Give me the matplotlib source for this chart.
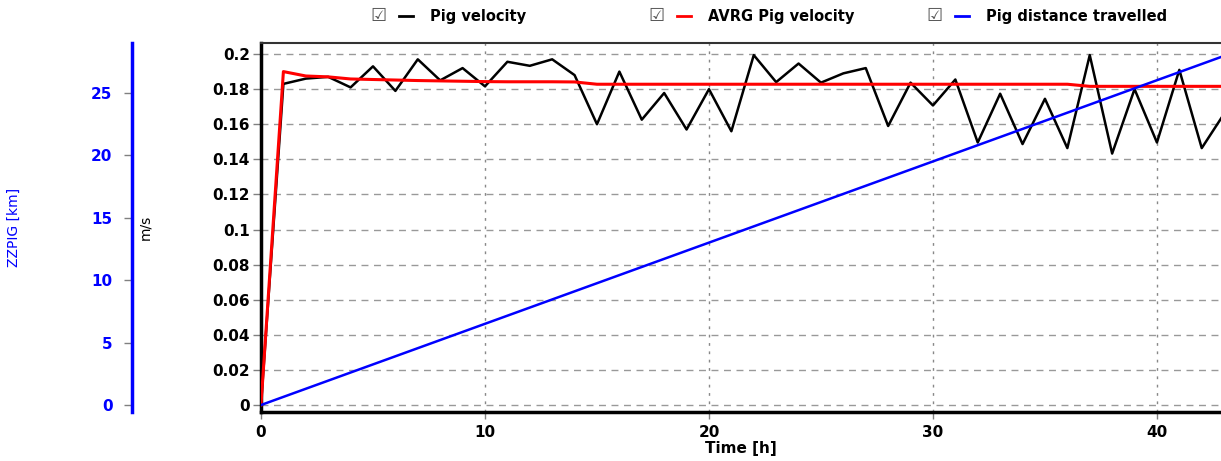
import matplotlib
matplotlib.use("Agg")
import matplotlib.pyplot as plt
from matplotlib.lines import Line2D
from matplotlib.ticker import FuncFormatter

plt.rcParams["font.family"] = "DejaVu Sans"
plt.rcParams["font.weight"] = "bold"

hours = list(range(44))

pig_velocity = [0.0, 0.183, 0.186, 0.187, 0.181, 0.193, 0.179, 0.197, 0.185, 0.192,
                0.1816, 0.1956, 0.1933, 0.197, 0.188, 0.160, 0.190, 0.1626, 0.1778, 0.157,
                0.180, 0.156, 0.1994, 0.184, 0.1946, 0.1837, 0.189, 0.192, 0.159, 0.1837,
                0.1707, 0.1855, 0.1496, 0.1774, 0.1487, 0.1745, 0.1464, 0.1994, 0.1433, 0.180,
                0.1496, 0.191, 0.1464, 0.166]

avrg_velocity = [0.0, 0.190, 0.1875, 0.187, 0.1858, 0.1855, 0.1852, 0.1849, 0.1847, 0.1845,
                 0.1843, 0.1842, 0.1842, 0.1842, 0.1841, 0.1828, 0.1828, 0.1828, 0.1828, 0.1828,
                 0.1828, 0.1828, 0.1828, 0.1828, 0.1828, 0.1828, 0.1828, 0.1828, 0.1828, 0.1828,
                 0.1828, 0.1828, 0.1828, 0.1828, 0.1828, 0.1828, 0.1828, 0.1816, 0.1816, 0.1816,
                 0.1816, 0.1816, 0.1816, 0.1816]

distance_km = [0.0, 0.65, 1.3, 1.95, 2.6, 3.25, 3.9, 4.55, 5.2, 5.85,
               6.5, 7.15, 7.8, 8.45, 9.1, 9.75, 10.4, 11.05, 11.7, 12.35,
               13.0, 13.65, 14.3, 14.95, 15.6, 16.25, 16.9, 17.55, 18.2, 18.85,
               19.5, 20.15, 20.8, 21.45, 22.1, 22.75, 23.4, 24.05, 24.7, 25.35,
               26.0, 26.65, 27.3, 27.95]

v_ticks = [0, 0.02, 0.04, 0.06, 0.08, 0.1, 0.12, 0.14, 0.16, 0.18, 0.2]
km_ticks = [0, 5, 10, 15, 20, 25]
x_ticks = [0, 10, 20, 30, 40]

W, H = 1221, 461
fig = plt.figure(figsize=(W / 100, H / 100), dpi=100)
ax = fig.add_axes([261 / W, 49 / H, 1 - 261 / W, 369 / H])

ax.plot(hours, pig_velocity, color="black", lw=1.8, zorder=3)
ax.plot(hours, avrg_velocity, color="#ff0000", lw=2.2, zorder=4)

ax.set_xlim(0, 42.86)
ax.set_ylim(-0.004, 0.2063)
ax.set_xticks(x_ticks)
ax.set_yticks(v_ticks)
ax.yaxis.set_major_formatter(FuncFormatter(lambda v, p: "%g" % v))
ax.tick_params(axis="y", length=6, width=1, color="#808080", labelsize=11, pad=2)
ax.tick_params(axis="x", length=5, width=1, color="#808080", labelsize=11, pad=4)
ax.grid(axis="y", linestyle=(0, (5, 4)), color="#999999", lw=1)
ax.grid(axis="x", linestyle=(0, (2, 4)), color="#888888", lw=1)
ax.spines["left"].set_linewidth(2.5)
ax.spines["bottom"].set_linewidth(2.5)
ax.spines["top"].set_linewidth(1.5)
ax.spines["top"].set_color("#333333")
ax.spines["right"].set_visible(False)
ax.set_xlabel("Time [h]", fontsize=11, fontweight="bold", labelpad=1)
ax.set_ylabel("m/s", fontsize=10, fontweight="normal")
ax.yaxis.set_label_coords((152 - 261) / 960, 0.5)

ax2 = ax.twinx()
ax2.plot(hours, distance_km, color="#0000ff", lw=1.8, zorder=5)
ax2.set_ylim(-0.56, 28.98)
ax2.set_yticks(km_ticks)
ax2.yaxis.set_ticks_position("left")
ax2.yaxis.set_label_position("left")
ax2.spines["right"].set_visible(False)
ax2.spines["top"].set_visible(False)
ax2.spines["bottom"].set_visible(False)
ax2.spines["left"].set_visible(True)
ax2.spines["left"].set_position(("outward", (261 - 132) * 0.72))
ax2.spines["left"].set_color("#0000ff")
ax2.spines["left"].set_linewidth(2.5)
ax2.tick_params(axis="y", length=6, width=1, color="#808080", labelcolor="#0000ff",
                labelsize=11, pad=8)
ax2.set_ylabel("ZZPIG [km]", color="#0000ff", fontsize=10, fontweight="normal")
ax2.yaxis.set_label_coords((21 - 261) / 960, 0.5)

# legend row with check boxes
entries = [("Pig velocity", "black", 370), ("AVRG Pig velocity", "#ff0000", 648),
           ("Pig distance travelled", "#0000ff", 926)]
ly = 1 - 16 / H
for label, col, x0 in entries:
    fig.text(x0 / W, ly, "\u2611", fontsize=13, color="#555555", fontweight="normal",
             ha="left", va="center")
    fig.add_artist(Line2D([(x0 + 29) / W, (x0 + 43) / W], [ly, ly], color=col, lw=2))
    fig.text((x0 + 60) / W, ly, label, fontsize=10.5, fontweight="bold",
             ha="left", va="center")

fig.savefig("out.png", dpi=100)
